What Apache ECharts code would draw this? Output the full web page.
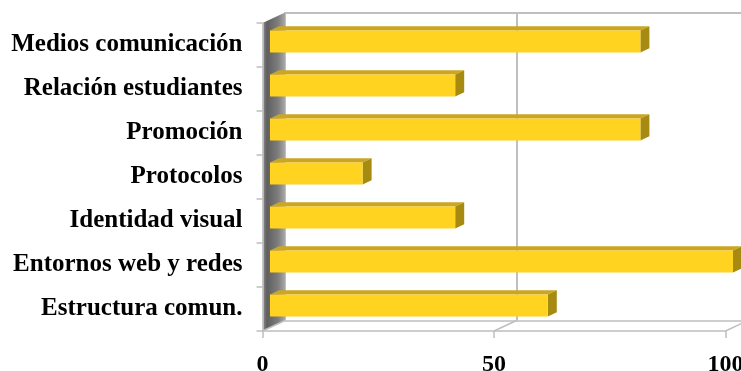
<!DOCTYPE html>
<html>
<head>
<meta charset="utf-8">
<script src="https://cdn.jsdelivr.net/npm/echarts@6/dist/echarts.min.js"></script>
<style>
html, body { margin: 0; padding: 0; background: #fff; }
#main { width: 741px; height: 371px; }
</style>
</head>
<body>
<div id="main"></div>
<script>
// datos
var categorias = ['Medios comunicación', 'Relación estudiantes', 'Promoción', 'Protocolos',
  'Identidad visual', 'Entornos web y redes', 'Estructura comun.'];
var valores = [80, 40, 80, 20, 40, 100, 60];
var marcas = [0, 50, 100];

// geometria del grafico 3D
var frente = { left: 262.5, top: 23, width: 463, height: 308 };
var fondo = { dx: 22.5, dy: -10.5 };
var posBarra = 1 / 3;   // las barras estan a un tercio del fondo
var grosor = 0.4;       // profundidad de la barra

var gris = '#bfbfbf';
var fuente = 'Liberation Serif, Times New Roman, serif';

function pared(params) {
  var c = params.coordSys;
  return {
    type: 'polygon',
    shape: {
      points: [[c.x, c.y], [c.x + fondo.dx, c.y + fondo.dy],
        [c.x + fondo.dx, c.y + c.height + fondo.dy], [c.x, c.y + c.height]]
    },
    style: {
      fill: new echarts.graphic.LinearGradient(0, 0, 1, 0, [
        { offset: 0, color: '#8e8e8e' },
        { offset: 0.2, color: '#5f5f5f' },
        { offset: 0.7, color: '#7e7e7e' },
        { offset: 1, color: '#a9a9a9' }
      ])
    }
  };
}

function suelo(params, api) {
  var c = params.coordSys;
  var p = api.coord([api.value(0), 0]);
  var y = c.y + c.height;
  return {
    type: 'line',
    shape: { x1: p[0], y1: y, x2: p[0] + fondo.dx, y2: y + fondo.dy },
    style: { stroke: gris, lineWidth: 1.5 }
  };
}

function barra(params, api) {
  var ini = api.coord([0, api.value(1)]);
  var fin = api.coord([api.value(0), api.value(1)]);
  var h = api.size([0, 1])[1] * 0.5;
  var ox = fondo.dx * grosor, oy = fondo.dy * grosor;
  var y0 = fin[1] - h / 2, y1 = fin[1] + h / 2;
  return {
    type: 'group',
    children: [
      { type: 'polygon', shape: { points: [[ini[0], y0], [fin[0], y0], [fin[0] + ox, y0 + oy], [ini[0] + ox, y0 + oy]] },
        style: { fill: '#cba623' } },
      { type: 'polygon', shape: { points: [[fin[0], y0], [fin[0] + ox, y0 + oy], [fin[0] + ox, y1 + oy], [fin[0], y1]] },
        style: { fill: '#a68b10' } },
      { type: 'rect', shape: { x: ini[0], y: y0, width: fin[0] - ini[0], height: h },
        style: { fill: '#ffd320' } }
    ]
  };
}

var myChart = echarts.init(document.getElementById('main'));
var option = {
  animation: false,
  grid: [
    { left: frente.left, top: frente.top, width: frente.width, height: frente.height, outerBoundsMode: 'none' },
    { left: frente.left + fondo.dx, top: frente.top + fondo.dy, width: frente.width, height: frente.height, outerBoundsMode: 'none' },
    { left: frente.left + fondo.dx * posBarra, top: frente.top + fondo.dy * posBarra, width: frente.width, height: frente.height, outerBoundsMode: 'none' }
  ],
  xAxis: [
    {
      gridIndex: 0, type: 'value', min: 0, max: 100, interval: 50, position: 'bottom', z: 10,
      axisLine: { show: true, lineStyle: { color: gris, width: 1.5 } },
      axisTick: { show: true, length: 7, lineStyle: { color: gris, width: 1.5 } },
      axisLabel: { margin: 22, color: '#000', fontFamily: fuente, fontWeight: 'bold', fontSize: 24 },
      splitLine: { show: false }
    },
    {
      gridIndex: 1, type: 'value', min: 0, max: 100, interval: 50, position: 'top',
      axisLine: { show: true, lineStyle: { color: gris, width: 2 } },
      axisTick: { show: false }, axisLabel: { show: false },
      splitLine: { show: true, lineStyle: { color: gris, width: 2 } }
    },
    {
      gridIndex: 1, type: 'value', min: 0, max: 100, interval: 50, position: 'bottom',
      axisLine: { show: true, lineStyle: { color: gris, width: 1.5 } },
      axisTick: { show: false }, axisLabel: { show: false }, splitLine: { show: false }
    },
    { gridIndex: 2, type: 'value', min: 0, max: 100, show: false }
  ],
  yAxis: [
    {
      gridIndex: 0, type: 'category', data: categorias, inverse: true, z: 10,
      axisLine: { show: true, lineStyle: { color: '#c8c8c8', width: 1.5 } },
      axisTick: { show: true, length: 6, lineStyle: { color: gris, width: 1.5 } },
      axisLabel: { margin: 20, color: '#000', fontFamily: fuente, fontWeight: 'bold', fontSize: 25, padding: [3, 0, 0, 0] }
    },
    { gridIndex: 1, type: 'category', data: categorias, inverse: true, show: false },
    { gridIndex: 2, type: 'category', data: categorias, inverse: true, show: false }
  ],
  series: [
    {
      name: 'pared', type: 'custom', xAxisIndex: 0, yAxisIndex: 0, z: 1, silent: true,
      renderItem: pared, data: [[0, 0]]
    },
    {
      name: 'suelo', type: 'custom', xAxisIndex: 0, yAxisIndex: 0, z: 1, silent: true,
      renderItem: suelo, data: marcas.map(function (v) { return [v, 0]; })
    },
    {
      name: 'valor', type: 'custom', xAxisIndex: 3, yAxisIndex: 2, z: 3,
      encode: { x: 0, y: 1 },
      renderItem: barra,
      data: valores.map(function (v, i) { return [v, i]; })
    }
  ]
};
myChart.setOption(option);
</script>
</body>
</html>
